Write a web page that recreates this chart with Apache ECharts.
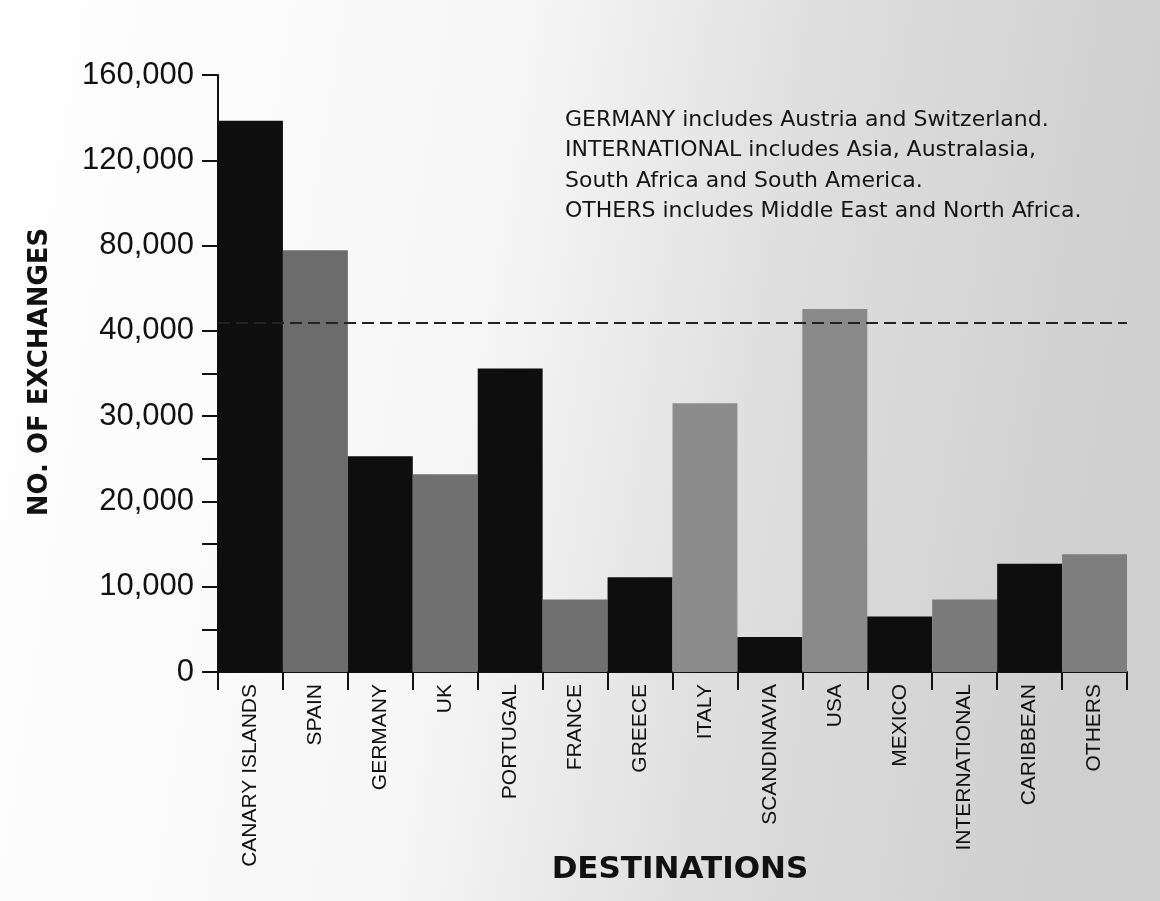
<!DOCTYPE html>
<html>
<head>
<meta charset="utf-8">
<script src="https://cdn.jsdelivr.net/npm/echarts@6/dist/echarts.min.js"></script>
<style>
html,body{margin:0;padding:0;background:#fff;}
#chart{width:1160px;height:901px;}
</style>
</head>
<body>
<div id="chart"></div>
<script>
// ---- data ----
const categories = ['CANARY ISLANDS','SPAIN','GERMANY','UK','PORTUGAL','FRANCE','GREECE','ITALY','SCANDINAVIA','USA','MEXICO','INTERNATIONAL','CARIBBEAN','OTHERS'];
const exchanges = [138500, 77800, 25300, 23200, 35600, 8500, 11100, 31500, 4100, 50200, 6500, 8500, 12700, 13800];
const yTickValues = [0, 10000, 20000, 30000, 40000, 80000, 120000, 160000];
const yTickLabels = ['0', '10,000', '20,000', '30,000', '40,000', '80,000', '120,000', '160,000'];
const yMinorTickValues = [5000, 15000, 25000, 35000];
const dashLineValue = 44000;
const notes = [
  'GERMANY includes Austria and Switzerland.',
  'INTERNATIONAL includes Asia, Australasia,',
  'South Africa and South America.',
  'OTHERS includes Middle East and North Africa.'
];

// ---- styles ----
const barColors = ['#0e0e0e','#6c6c6c','#0e0e0e','#707070','#0e0e0e','#707070','#0e0e0e','#8c8c8c','#0e0e0e','#8a8a8a','#0e0e0e','#7a7a7a','#0e0e0e','#7e7e7e'];

// broken scale: 0-40,000 linear per 10,000 step; above 40,000 one step per 40,000
function toAxis(v){ return v <= 40000 ? v / 10000 : 4 + (v - 40000) / 40000; }

const chart = echarts.init(document.getElementById('chart'), null, {renderer:'canvas'});
const tickPos = yTickValues.map(toAxis);
const allTicks = tickPos.concat(yMinorTickValues.map(toAxis)).sort((a,b)=>a-b);

chart.setOption({
  animation: false,
  backgroundColor: {
    type: 'linear', x: 0, y: 0, x2: 1, y2: 0.2,
    colorStops: [
      {offset: 0, color: '#ffffff'},
      {offset: 0.45, color: '#f6f6f6'},
      {offset: 0.7, color: '#dedede'},
      {offset: 1, color: '#cfcfcf'}
    ]
  },
  grid: {left: 218, right: 33, top: 75, bottom: 229, containLabel: false},
  xAxis: {
    type: 'category',
    data: categories,
    axisLine: {lineStyle: {color: '#111', width: 2}},
    axisTick: {show: true, length: 18, lineStyle: {color: '#111', width: 2}},
    axisLabel: {rotate: 90, margin: 12, color: '#111', fontFamily: 'Liberation Sans', fontSize: 21, interval: 0}
  },
  yAxis: {
    type: 'value',
    min: 0, max: 7,
    splitLine: {show: false},
    axisLine: {show: true, lineStyle: {color: '#111', width: 2}},
    axisTick: {show: true, length: 16, customValues: allTicks, lineStyle: {color: '#111', width: 2}},
    axisLabel: {
      customValues: tickPos,
      margin: 24,
      color: '#111',
      fontFamily: 'Liberation Sans',
      fontSize: 31,
      formatter: function(val){
        let best = 0, d = Infinity;
        tickPos.forEach((p,i)=>{ const dd = Math.abs(p - val); if (dd < d){ d = dd; best = i; } });
        return yTickLabels[best];
      }
    }
  },
  series: [{
    type: 'bar',
    barCategoryGap: '0%',
    data: exchanges.map((v,i)=>({value: toAxis(v), itemStyle: {color: barColors[i]}})),
    markLine: {
      silent: true,
      symbol: ['none','none'],
      label: {show: false},
      lineStyle: {type: [12, 6], color: '#222', width: 2},
      data: [{yAxis: toAxis(dashLineValue)}]
    }
  }],
  graphic: [
    {type: 'text', x: 40, y: 372, rotation: Math.PI/2,
     style: {text: 'NO. OF EXCHANGES', font: 'bold 26px "DejaVu Sans"', fill: '#111', textAlign: 'center', textVerticalAlign: 'middle'}},
    {type: 'text', x: 680, y: 870,
     style: {text: 'DESTINATIONS', font: 'bold 31px "DejaVu Sans"', fill: '#111', textAlign: 'center', textVerticalAlign: 'middle'}},
    {type: 'text', x: 565, y: 105,
     style: {text: notes.join('\n'), font: '22px "DejaVu Sans"', lineHeight: 30.5, fill: '#151515', textAlign: 'left', textVerticalAlign: 'top'}}
  ]
});
</script>
</body>
</html>
